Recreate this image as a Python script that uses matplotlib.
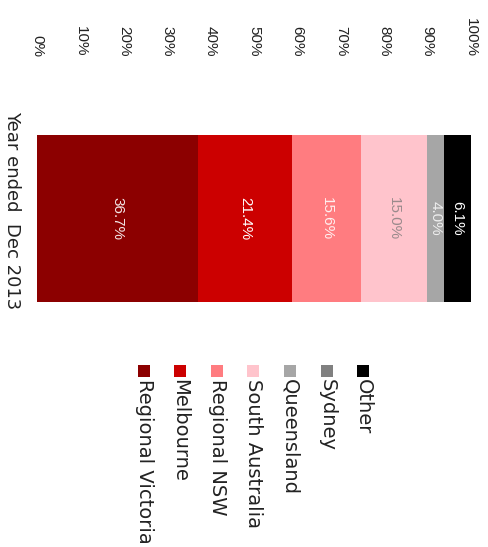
import matplotlib
matplotlib.use("Agg")
import matplotlib.pyplot as plt
from matplotlib.patches import Rectangle

# ---- data ----
category = "Year ended  Dec 2013"
series = ["Regional Victoria", "Melbourne", "Regional NSW", "South Australia",
          "Queensland", "Sydney", "Other"]
values = [36.7, 21.4, 15.6, 15.0, 4.0, 0.0, 6.1]
labels = ["36.7%", "21.4%", "15.6%", "15.0%", "4.0%", "", "6.1%"]
colors = ["#8c0000", "#cc0000", "#ff7c80", "#ffc4cc", "#a6a6a6", "#808080", "#000000"]
label_colors = ["#f4e6e6", "#ffffff", "#fff0f0", "#9a8a8c", "#eeeeee", "#ffffff", "#ffffff"]
tick_vals = [0, 10, 20, 30, 40, 50, 60, 70, 80, 90, 100]
tick_labels = [f"{v}%" for v in tick_vals]

W, H = 488, 547
fig = plt.figure(figsize=(W / 100, H / 100), dpi=100)

# axes placement (pixel-based)
ax_left, ax_right = 37, 471
ax_top, ax_bottom = 58, 330
ax = fig.add_axes([ax_left / W, 1 - ax_bottom / H, (ax_right - ax_left) / W,
                   (ax_bottom - ax_top) / H])

total = sum(values)
shares = [v / total * 100 for v in values]

left = 0.0
for s, c, lab, lc in zip(shares, colors, labels, label_colors):
    if s > 0:
        ax.barh(0, s, left=left, height=1.0, color=c, edgecolor="none")
        if lab:
            ax.text(left + s / 2, 0, lab, rotation=-90, ha="center", va="center",
                    color=lc, fontsize=11, family="Liberation Sans")
    left += s

# bar spans pixel 135-302 -> 167 px per unit, centered at 218.5
ax.set_ylim(-(ax_bottom - 218.5) / 167, (218.5 - ax_top) / 167)
ax.set_xlim(0, 100)
ax.xaxis.tick_top()
ax.set_xticks(tick_vals)
ax.set_xticklabels(tick_labels, rotation=-90, fontsize=11, family="Liberation Sans",
                   color="#222222")
ax.tick_params(axis="x", length=0, pad=1)
ax.set_yticks([])
for sp in ax.spines.values():
    sp.set_visible(False)

# category label (rotated, left of bar)
fig.text(12 / W, 1 - 210 / H, category, rotation=-90, ha="center", va="center",
         fontsize=13, family="DejaVu Sans", color="#222222")

# legend (rotated, below)
centers = [144, 180, 217, 253, 290, 327, 363]
sq = 12
for name, c, cx in zip(series, colors, centers):
    fig.patches.append(Rectangle(((cx - sq / 2) / W, 1 - 377 / H), sq / W, sq / H,
                                 transform=fig.transFigure, facecolor=c,
                                 edgecolor="none"))
    fig.text(cx / W, 1 - 379 / H, name, rotation=-90, ha="center", va="top",
             fontsize=14, family="DejaVu Sans", color="#222222")

fig.savefig("out.png", dpi=100)
